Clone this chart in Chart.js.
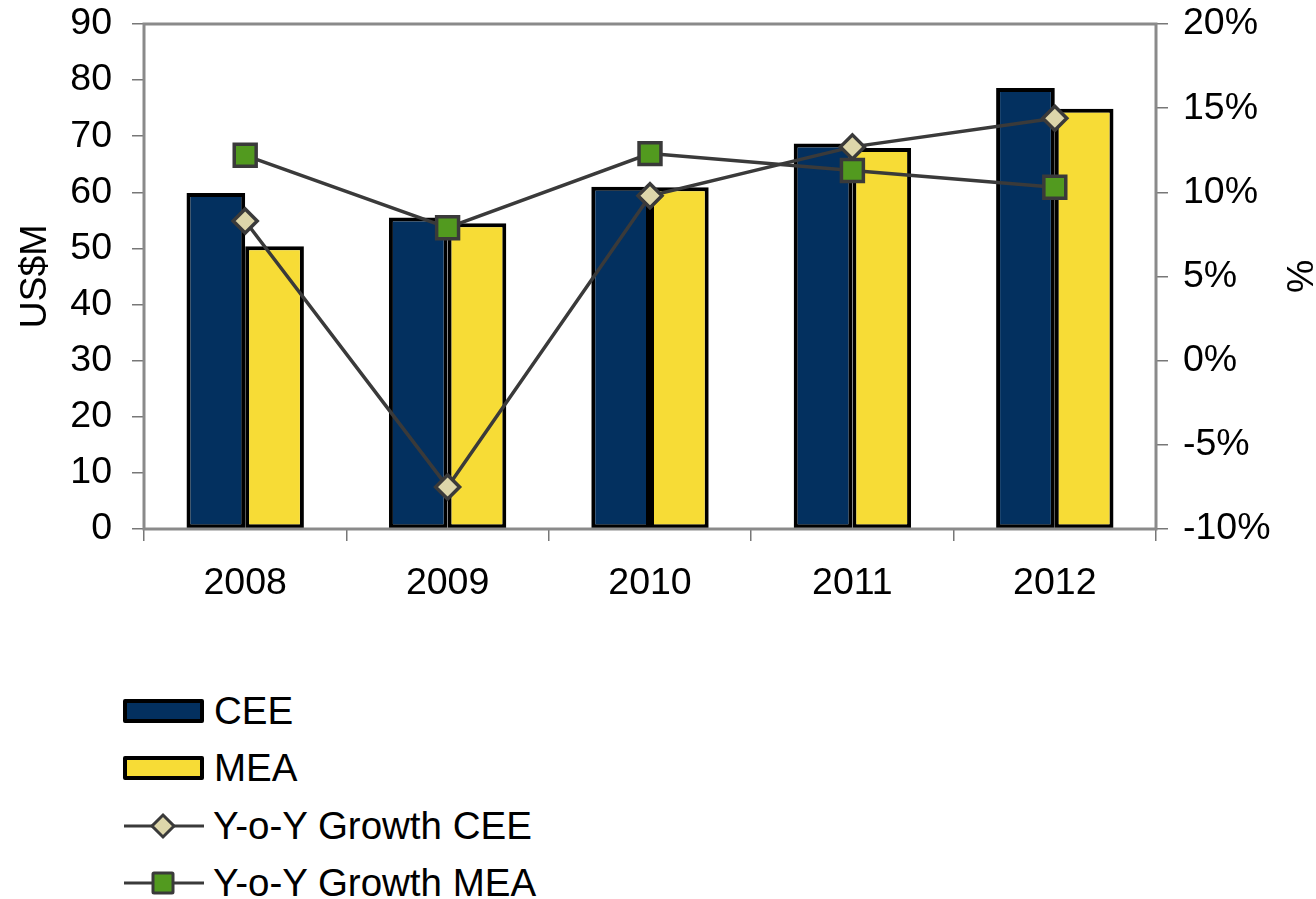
<!DOCTYPE html>
<html>
<head>
<meta charset="utf-8">
<script src="https://cdn.jsdelivr.net/npm/chart.js@4.4.0/dist/chart.umd.min.js"></script>
<style>
  body { margin: 0; background: #fff; font-family: 'Liberation Sans', Arial, sans-serif; }
  #wrap { position: relative; width: 1316px; height: 899px; }
  #legend { position: absolute; left: 123px; top: 682px; font-size: 38.5px; color: #000; }
  .row { height: 57.5px; display: flex; align-items: center; }
  .box { width: 73px; height: 16px; border: 4px solid #000; border-radius: 2px; margin-right: 10px; }
  .row svg { margin-right: 8px; }
</style>
</head>
<body>
<div id="wrap">
  <canvas id="chart" width="1316" height="640"></canvas>
  <div id="legend"></div>
</div>
<script>
const years = ['2008', '2009', '2010', '2011', '2012'];
const ceeValues = [59.9, 55.5, 61.0, 68.7, 78.6];
const meaValues = [50.4, 54.5, 60.9, 67.9, 74.9];
const ceeGrowth = [8.3, -7.5, 9.8, 12.7, 14.4];
const meaGrowth = [12.2, 7.9, 12.3, 11.3, 10.3];
const leftTicks = [0, 10, 20, 30, 40, 50, 60, 70, 80, 90];
const rightTicks = [-10, -5, 0, 5, 10, 15, 20];

const navy = '#03305f';
const yellow = '#f7dc36';
const lineGrey = '#3a3a3a';
const font = { family: "'Liberation Sans', Arial, sans-serif", size: 37.5 };
// tiny line height on the value axes so the top label does not push the plot down
const yFont = { ...font, lineHeight: 0.2 };

// grey frame round the plot area
const frame = {
    id: 'frame',
    afterDraw(chart) {
        const a = chart.chartArea;
        const c = chart.ctx;
        c.save();
        c.strokeStyle = '#8a8a8a';
        c.lineWidth = 3;
        c.strokeRect(a.left, a.top, a.right - a.left, a.bottom - a.top);
        c.restore();
    }
};

const ctx = document.getElementById('chart').getContext('2d');
const chart = new Chart(ctx, {
    type: 'bar',
    data: {
        labels: years,
        datasets: [{
            type: 'line',
            label: 'Y-o-Y Growth MEA',
            data: meaGrowth,
            yAxisID: 'y1',
            borderColor: lineGrey,
            borderWidth: 3.5,
            pointStyle: 'rect',
            pointRadius: 15.5,
            pointBackgroundColor: '#529a1f',
            pointBorderColor: lineGrey,
            pointBorderWidth: 3.5,
            order: 0
        }, {
            type: 'line',
            label: 'Y-o-Y Growth CEE',
            data: ceeGrowth,
            yAxisID: 'y1',
            borderColor: lineGrey,
            borderWidth: 3.5,
            pointStyle: 'rectRot',
            pointRadius: 12,
            pointBackgroundColor: '#ddd6aa',
            pointBorderColor: lineGrey,
            pointBorderWidth: 3.5,
            order: 1
        }, {
            label: 'CEE',
            data: ceeValues,
            backgroundColor: navy,
            borderColor: '#000',
            borderWidth: 4,
            borderSkipped: false,
            categoryPercentage: 0.58,
            barPercentage: 1,
            order: 2
        }, {
            label: 'MEA',
            data: meaValues,
            backgroundColor: yellow,
            borderColor: '#000',
            borderWidth: 4,
            borderSkipped: false,
            categoryPercentage: 0.58,
            barPercentage: 1,
            order: 2
        }]
    },
    options: {
        responsive: false,
        animation: false,
        layout: { padding: { top: 24, bottom: 0 } },
        plugins: { legend: { display: false }, tooltip: { enabled: false } },
        scales: {
            x: {
                grid: { drawOnChartArea: false, tickLength: 12, color: '#777', lineWidth: 1.5, offset: true },
                border: { display: false },
                ticks: { color: '#000', font: font, padding: 20 },
                afterFit(s) { s.height = 111; }
            },
            y: {
                position: 'left',
                min: 0, max: 90,
                afterBuildTicks(s) { s.ticks = leftTicks.map(v => ({ value: v })); },
                grid: { drawOnChartArea: false, tickLength: 12, color: '#777', lineWidth: 1.5 },
                border: { display: false },
                ticks: { color: '#000', font: yFont, padding: 20 },
                title: { display: true, text: 'US$M', color: '#000', font: { ...font, lineHeight: 1 }, padding: { top: 17, bottom: 0 } },
                afterFit(s) { s.width = 144; }
            },
            y1: {
                position: 'right',
                min: -10, max: 20,
                afterBuildTicks(s) { s.ticks = rightTicks.map(v => ({ value: v })); },
                grid: { drawOnChartArea: false, tickLength: 12, color: '#777', lineWidth: 1.5 },
                border: { display: false },
                ticks: { color: '#000', font: yFont, padding: 15, callback: v => v + '%' },
                title: { display: true, text: '%', color: '#000', font: { ...font, lineHeight: 1 }, padding: { top: 0, bottom: 0 } },
                afterFit(s) { s.width = 160; }
            }
        }
    },
    plugins: [frame]
});

// legend below the chart, one entry per row
const legendItems = [
    { label: 'CEE', kind: 'box', fill: navy },
    { label: 'MEA', kind: 'box', fill: yellow },
    { label: 'Y-o-Y Growth CEE', kind: 'diamond', fill: '#ddd6aa' },
    { label: 'Y-o-Y Growth MEA', kind: 'square', fill: '#529a1f' }
];
const legend = document.getElementById('legend');
legendItems.forEach(item => {
    const row = document.createElement('div');
    row.className = 'row';
    let mark;
    if (item.kind === 'box') {
        mark = `<div class="box" style="background:${item.fill}"></div>`;
    } else {
        const shape = item.kind === 'diamond'
            ? `<polygon points="40,3 51,14 40,25 29,14" fill="${item.fill}" stroke="${lineGrey}" stroke-width="3"/>`
            : `<rect x="30" y="4" width="20" height="20" fill="${item.fill}" stroke="${lineGrey}" stroke-width="3" rx="1"/>`;
        mark = `<svg width="82" height="28"><line x1="1" y1="14" x2="81" y2="14" stroke="${lineGrey}" stroke-width="3"/>${shape}</svg>`;
    }
    row.innerHTML = mark + `<span>${item.label}</span>`;
    legend.appendChild(row);
});
</script>
</body>
</html>
